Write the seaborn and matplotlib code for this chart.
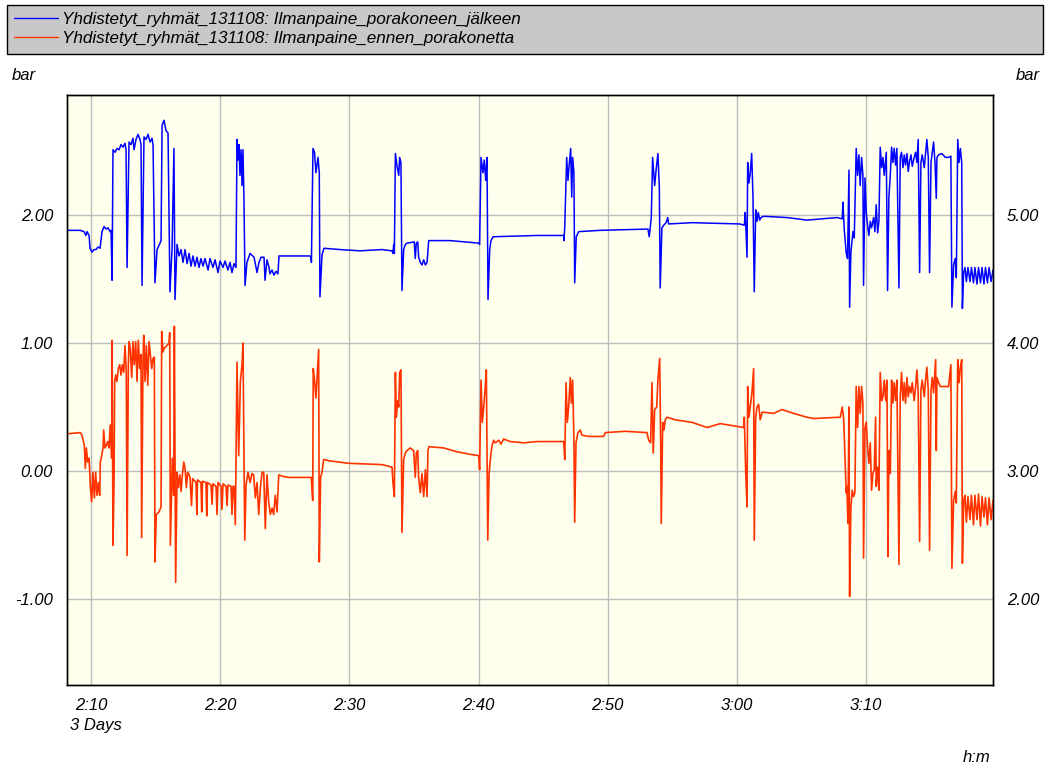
import matplotlib
matplotlib.use("Agg")
import matplotlib.pyplot as plt
import pandas as pd
import seaborn as sns
from matplotlib.lines import Line2D

# ---------------- data (time in minutes after 2:00, pressure in bar) ----------------
after_name = "Yhdistetyt_ryhmät_131108: Ilmanpaine_porakoneen_jälkeen"
before_name = "Yhdistetyt_ryhmät_131108: Ilmanpaine_ennen_porakonetta"

# blue series, left axis
after_points = [
    (8.14,1.88),(9.15,1.88),(9.46,1.87),(9.61,1.84),(9.69,1.87),(9.85,1.84),(9.92,1.74),(10.08,1.71),
    (10.23,1.73),(10.39,1.73),(10.54,1.75),(10.70,1.74),(10.85,1.87),(11.01,1.91),(11.16,1.89),(11.32,1.90),
    (11.47,1.87),(11.55,1.88),(11.63,1.49),(11.70,2.51),(11.86,2.49),(12.01,2.52),(12.17,2.51),(12.32,2.55),
    (12.48,2.53),(12.63,2.56),(12.71,2.51),(12.79,1.59),(12.94,2.57),(13.10,2.55),(13.25,2.60),(13.33,2.51),
    (13.48,2.59),(13.64,2.63),(13.79,2.59),(13.87,2.55),(13.95,1.45),(14.10,2.61),(14.26,2.59),(14.41,2.63),
    (14.57,2.57),(14.72,2.60),(14.80,2.55),(14.95,1.47),(15.11,1.73),(15.34,1.78),(15.42,1.80),(15.50,2.70),
    (15.65,2.74),(15.80,2.66),(15.96,2.64),(16.11,1.40),(16.27,1.73),(16.42,2.52),(16.50,1.34),(16.66,1.77),
    (16.81,1.68),(16.97,1.73),(17.12,1.63),(17.28,1.73),(17.43,1.62),(17.59,1.70),(17.74,1.60),(17.89,1.68),
    (18.05,1.60),(18.20,1.67),(18.36,1.59),(18.51,1.66),(18.67,1.60),(18.82,1.66),(19.06,1.57),(19.21,1.66),
    (19.44,1.59),(19.60,1.65),(19.83,1.55),(19.98,1.64),(20.22,1.59),(20.37,1.64),(20.60,1.57),(20.76,1.63),
    (20.91,1.55),(21.07,1.62),(21.22,1.59),
    (21.30,2.59),(21.38,2.43),(21.45,2.55),(21.53,2.31),(21.61,2.51),(21.69,2.23),(21.76,2.51),(21.84,2.12),
    (21.92,1.45),(22.07,1.63),(22.31,1.70),(22.62,1.67),(22.85,1.55),(23.00,1.63),(23.16,1.67),(23.39,1.67),
    (23.47,1.49),(23.62,1.65),(23.78,1.59),(23.85,1.54),(24.01,1.57),(24.16,1.53),(24.32,1.56),(24.47,1.54),
    (24.55,1.68),(25.40,1.68),(26.95,1.68),(27.03,1.67),(27.06,1.63),(27.18,2.52),(27.30,2.49),(27.41,2.33),
    (27.57,2.45),(27.67,2.33),(27.72,1.36),(27.88,1.69),(28.03,1.74),(29.27,1.73),(30.82,1.72),(32.52,1.73),
    (33.30,1.72),(33.37,1.70),(33.43,1.77),(33.48,1.70),(33.56,2.48),(33.69,2.38),(33.82,2.31),(33.89,2.45),
    (33.99,2.41),(34.07,1.41),(34.20,1.73),(34.33,1.77),(34.46,1.78),(35.02,1.79),(35.10,1.66),(35.18,1.78),
    (35.29,1.79),(35.36,1.67),(35.49,1.63),(35.62,1.61),(35.75,1.65),(35.88,1.61),(36.01,1.63),(36.14,1.80),
    (37.79,1.80),(40.03,1.78),(40.08,1.77),(40.19,2.45),(40.34,2.33),(40.44,2.43),(40.55,2.27),(40.65,2.45),
    (40.73,1.34),(40.86,1.73),(40.96,1.80),(41.12,1.83),(44.52,1.84),
    (46.59,1.84),(46.61,1.80),(46.67,1.91),(46.82,2.45),(46.92,2.27),(47.02,2.40),(47.13,2.52),(47.21,2.14),
    (47.28,2.45),(47.38,2.33),(47.44,1.47),(47.56,1.83),(47.75,1.87),(49.40,1.88),(53.11,1.89),(53.21,1.83),
    (53.37,1.98),(53.47,2.45),(53.63,2.23),(53.73,2.34),(53.88,2.48),(53.99,2.22),(54.06,1.43),(54.19,1.90),
    (54.33,1.92),(54.51,1.94),(54.64,1.98),(54.71,1.93),(56.52,1.94),
    (60.23,1.93),(60.57,1.92),(60.64,2.02),(60.78,1.67),(60.83,2.41),(60.93,2.25),(61.03,2.33),(61.14,2.48),
    (61.24,2.14),(61.34,1.40),(61.45,2.04),(61.55,1.95),(61.65,2.02),(61.76,1.96),(61.86,1.98),(62.07,1.99),
    (63.87,1.98),(65.42,1.96),(67.74,1.98),(68.15,1.97),(68.20,2.10),(68.31,1.88),(68.46,1.70),
    (68.56,1.66),(68.67,2.35),(68.72,1.28),(68.82,1.71),(68.98,1.87),(69.08,1.82),(69.23,2.52),(69.34,2.31),
    (69.44,2.47),(69.54,2.23),(69.65,2.45),(69.75,2.31),(69.80,1.45),(69.91,2.29),(70.01,2.02),(70.11,1.92),
    (70.21,1.84),(70.32,1.95),(70.42,1.90),(70.58,1.98),(70.68,1.87),(70.78,2.08),(70.89,1.86),(70.99,1.95),
    (71.09,2.53),(71.20,2.37),(71.30,2.45),(71.40,2.31),(71.56,2.49),(71.66,1.41),(71.76,2.14),(71.87,2.31),
    (71.97,2.53),(72.07,2.41),(72.17,2.52),(72.28,2.39),(72.38,2.52),(72.54,1.43),(72.64,2.45),(72.74,2.49),
    (72.85,2.37),(72.95,2.47),(73.05,2.39),(73.16,2.48),(73.26,2.34),(73.36,2.42),(73.47,2.47),(73.57,2.38),
    (73.72,2.45),(73.83,2.49),(73.93,2.41),(74.03,2.59),(74.14,1.55),(74.24,2.41),(74.34,2.47),(74.50,2.37),
    (74.60,2.48),(74.70,2.59),(74.81,2.45),(74.91,1.55),(75.02,2.41),(75.12,2.49),(75.22,2.57),(75.33,2.41),
    (75.43,2.13),(75.48,2.45),(75.61,2.47),(75.87,2.48),(76.13,2.45),(76.38,2.45),(76.56,2.46),(76.64,1.28),
    (76.77,1.61),(76.90,1.66),(76.98,1.51),(77.09,2.59),(77.19,2.41),(77.29,2.52),(77.40,2.41),(77.45,1.27),
    (77.55,1.55),(77.65,1.59),(77.76,1.48),(77.88,1.59),(78.04,1.48),(78.15,1.59),(78.31,1.47),(78.42,1.59),
    (78.58,1.46),(78.70,1.59),(78.85,1.47),(78.97,1.59),(79.12,1.46),(79.24,1.59),(79.39,1.47),(79.51,1.59),
    (79.67,1.48),(79.82,1.57),
]

# red series, right axis
before_points = [
    (8.14,3.29),(9.17,3.30),(9.30,3.28),(9.48,3.20),(9.56,3.02),(9.64,3.18),(9.74,3.07),(9.85,3.10),
    (9.95,2.87),(10.05,2.76),(10.15,2.99),(10.26,2.79),(10.36,2.99),(10.46,2.81),(10.57,2.91),(10.67,2.81),
    (10.72,3.07),(10.83,3.12),(10.93,3.18),(10.98,3.32),(11.08,3.18),(11.19,3.20),(11.29,3.23),(11.39,3.18),
    (11.49,3.36),(11.60,3.10),(11.63,4.02),(11.70,2.42),(11.78,2.91),(11.83,3.70),(11.91,3.75),(12.01,3.70),
    (12.11,3.80),(12.22,3.83),(12.32,3.75),(12.42,3.83),(12.53,3.77),(12.63,3.98),(12.73,3.77),(12.79,2.34),
    (12.89,3.83),(12.94,4.01),(13.04,3.96),(13.15,3.73),(13.25,4.01),(13.35,3.83),(13.46,4.01),(13.56,3.70),
    (13.66,4.02),(13.77,3.80),(13.87,3.91),(13.92,2.48),(14.02,3.85),(14.08,4.06),(14.18,3.70),(14.28,3.98),
    (14.39,3.67),(14.49,4.01),(14.59,3.91),(14.70,3.80),(14.80,3.88),(14.90,3.89),(14.95,2.29),(15.05,2.66),
    (15.26,2.68),(15.42,2.72),(15.47,4.09),(15.57,3.93),(15.67,3.96),(15.78,3.97),(15.88,3.98),(16.04,4.00),
    (16.09,4.08),(16.14,2.42),(16.29,3.10),(16.40,2.81),(16.45,4.13),(16.55,2.13),(16.66,2.99),(16.76,2.87),
    (16.87,2.97),(16.97,2.84),(17.07,2.97),(17.18,3.07),(17.28,3.02),(17.38,2.87),(17.48,2.99),(17.59,2.97),
    (17.66,2.95),(17.78,2.73),(17.86,2.94),(18.13,2.91),(18.19,2.66),(18.24,2.93),(18.51,2.91),(18.57,2.68),
    (18.63,2.92),(18.90,2.91),(18.96,2.65),(19.01,2.91),(19.29,2.89),(19.37,2.74),(19.43,2.90),(19.68,2.88),
    (19.75,2.66),(19.83,2.91),(20.06,2.88),(20.14,2.70),(20.22,2.90),(20.45,2.88),(20.53,2.73),(20.60,2.89),
    (20.84,2.88),(20.91,2.66),(20.99,2.88),(21.07,2.88),(21.17,2.58),
    (21.30,3.85),(21.43,3.12),(21.56,3.70),(21.69,3.83),(21.76,4.00),(21.84,3.12),(21.90,2.46),(22.00,2.89),
    (22.15,2.99),(22.31,2.91),(22.46,2.98),(22.59,2.97),(22.72,2.79),(22.85,2.91),(22.98,2.66),(23.11,2.87),
    (23.24,2.99),(23.37,2.99),(23.49,2.55),(23.62,2.97),(23.75,2.76),(23.88,2.66),(24.01,2.71),(24.14,2.66),
    (24.26,2.81),(24.40,2.68),(24.53,2.97),(24.78,2.96),(25.30,2.95),(26.85,2.95),(27.05,2.95),(27.16,2.77),
    (27.20,3.80),(27.31,3.70),(27.41,3.57),(27.51,3.75),(27.62,3.95),(27.67,2.29),(27.77,2.95),(27.88,2.99),
    (28.01,3.09),(28.40,3.08),(29.94,3.06),(32.52,3.05),
    (33.30,3.03),(33.37,2.91),(33.48,2.80),(33.56,3.77),(33.63,3.42),(33.74,3.55),(33.82,3.50),(33.89,3.77),
    (33.99,3.79),(34.07,2.52),(34.20,3.09),(34.33,3.14),(34.46,3.16),(34.71,3.18),(34.97,3.16),(35.10,2.95),
    (35.18,3.14),(35.29,3.16),(35.36,2.95),(35.49,2.83),(35.62,2.98),(35.75,2.80),(35.88,3.01),(36.01,2.80),
    (36.08,3.16),(36.16,3.19),(37.30,3.18),(38.33,3.15),(39.36,3.13),(40.01,3.12),(40.08,3.01),(40.19,3.71),
    (40.29,3.38),(40.40,3.50),(40.52,3.66),(40.60,3.79),(40.71,2.46),(40.81,2.98),(40.91,3.09),(41.04,3.20),
    (41.17,3.24),(41.29,3.22),(41.42,3.23),(41.56,3.24),(41.73,3.21),(41.94,3.25),(42.45,3.23),(43.48,3.22),
    (44.52,3.23),
    (46.59,3.23),(46.67,3.09),(46.77,3.69),(46.87,3.38),(46.97,3.50),(47.10,3.73),(47.18,3.53),(47.28,3.71),
    (47.38,3.24),(47.44,2.60),(47.54,3.22),(47.69,3.30),(47.87,3.32),(48.00,3.28),(48.52,3.27),(49.68,3.27),
    (49.81,3.30),(51.36,3.31),(53.03,3.30),(53.17,3.24),(53.32,3.22),(53.42,3.69),(53.52,3.14),(53.63,3.48),
    (53.79,3.50),(53.88,3.71),(54.02,3.88),(54.09,3.27),(54.14,2.59),(54.25,3.38),(54.35,3.32),(54.45,3.40),
    (54.58,3.42),(55.22,3.40),(56.52,3.38),
    (57.68,3.34),(58.71,3.37),(60.52,3.34),(60.57,3.42),(60.68,2.98),(60.78,2.72),(60.83,3.66),(60.93,3.42),
    (61.03,3.50),(61.16,3.61),(61.29,3.80),(61.34,2.46),(61.45,3.42),(61.55,3.50),(61.68,3.52),(61.80,3.40),
    (61.96,3.46),(62.84,3.45),(63.48,3.48),(64.39,3.45),(65.42,3.42),(65.94,3.41),(68.00,3.42),(68.15,3.50),
    (68.26,3.41),(68.36,3.11),(68.46,2.83),
    (68.51,2.88),(68.59,2.59),(68.67,3.50),(68.72,2.02),(68.82,2.72),(68.92,2.85),(69.03,2.80),(69.13,2.83),
    (69.23,3.66),(69.34,3.34),(69.44,3.66),(69.54,3.45),(69.65,3.66),(69.75,3.53),(69.80,2.32),(69.91,3.34),
    (70.01,3.38),(70.11,3.19),(70.21,3.06),(70.32,3.22),(70.42,2.85),(70.52,2.98),(70.63,3.01),(70.73,3.42),
    (70.78,2.88),(70.89,3.03),(70.99,2.85),(71.09,3.77),(71.20,3.55),(71.30,3.58),(71.40,3.71),(71.51,3.55),
    (71.61,3.71),(71.69,2.33),(71.76,3.16),(71.87,2.98),(71.97,3.71),(72.07,3.53),(72.17,3.69),(72.28,3.55),
    (72.38,3.71),(72.54,2.27),(72.64,3.58),(72.74,3.77),(72.85,3.55),(72.95,3.69),(73.05,3.53),(73.16,3.73),
    (73.26,3.58),(73.36,3.66),(73.47,3.61),(73.57,3.69),(73.72,3.55),(73.83,3.66),(73.93,3.79),(74.03,3.61),
    (74.14,2.45),(74.24,3.63),(74.34,3.71),(74.50,3.58),(74.60,3.71),(74.70,3.81),(74.81,3.63),(74.91,2.38),
    (75.02,3.63),(75.12,3.73),(75.22,3.61),(75.33,3.79),(75.38,3.87),(75.43,3.16),(75.48,3.73),(75.61,3.69),
    (75.74,3.66),(76.38,3.66),(76.56,3.83),(76.64,2.24),(76.77,2.77),(76.90,2.84),(76.98,2.75),(77.09,3.87),
    (77.19,3.69),(77.29,3.81),(77.40,3.87),(77.45,2.28),(77.55,2.77),(77.65,2.81),(77.76,2.60),(77.88,2.80),
    (78.04,2.62),(78.15,2.81),(78.31,2.58),(78.42,2.81),(78.58,2.62),(78.70,2.82),(78.85,2.57),(78.97,2.80),
    (79.12,2.64),(79.24,2.79),(79.39,2.58),(79.51,2.79),(79.67,2.62),(79.82,2.77),
]

x_tick_minutes = [10, 20, 30, 40, 50, 60, 70]
x_tick_labels = ["2:10", "2:20", "2:30", "2:40", "2:50", "3:00", "3:10"]
left_ticks = [-1.0, 0.0, 1.0, 2.0]
right_ticks = [2.0, 3.0, 4.0, 5.0]
x_range = (8.14, 79.82)
left_range = (-1.672, 2.9375)
right_range = (1.328, 5.9375)

# ---------------- styling ----------------
sns.set_style("white")
plt.rcParams["font.family"] = ["Liberation Sans", "DejaVu Sans"]
plt.rcParams["font.style"] = "italic"
plt.rcParams["text.color"] = "black"
plt.rcParams["xtick.color"] = "black"
plt.rcParams["ytick.color"] = "black"
FS = 12.0
LFS = 12.3
BLUE = "#0000ff"
RED = "#ff3300"
GRID = "#bdbdbd"

W, H = 1050, 764
fig = plt.figure(figsize=(W / 100, H / 100), dpi=100)
fig.patch.set_facecolor("white")
ax = fig.add_axes([67 / W, 1 - 685 / H, (993 - 67) / W, (685 - 95) / H])
ax.set_facecolor("#ffffee")

df_after = pd.DataFrame(after_points, columns=["minute", "bar"])
df_before = pd.DataFrame(before_points, columns=["minute", "bar"])

sns.lineplot(data=df_after, x="minute", y="bar", ax=ax, color=BLUE, linewidth=1.1,
             sort=False, estimator=None, legend=False)
ax2 = ax.twinx()
sns.lineplot(data=df_before, x="minute", y="bar", ax=ax2, color=RED, linewidth=1.2,
             sort=False, estimator=None, legend=False)

ax.set_xlim(*x_range)
ax.set_ylim(*left_range)
ax2.set_ylim(*right_range)

ax.set_xticks(x_tick_minutes)
ax.set_xticklabels(x_tick_labels)
ax.set_yticks(left_ticks)
ax.set_yticklabels([f"{v:.2f}" for v in left_ticks])
ax2.set_yticks(right_ticks)
ax2.set_yticklabels([f"{v:.2f}" for v in right_ticks])

for a in (ax, ax2):
    a.set_xlabel("")
    a.set_ylabel("")
    for s in a.spines.values():
        s.set_color("black")
        s.set_linewidth(1.0)
ax.tick_params(axis="both", length=0, labelsize=FS, colors="black")
ax.tick_params(axis="y", pad=10)
ax.tick_params(axis="x", pad=9)
ax2.tick_params(axis="y", length=0, labelsize=FS, colors="black", pad=10)
for lab in ax.get_xticklabels() + ax.get_yticklabels() + ax2.get_yticklabels():
    lab.set_fontstyle("italic")

ax.grid(True, color=GRID, linewidth=1.0)
ax.set_axisbelow(True)

# legend box
handles = [Line2D([], [], color=BLUE, linewidth=1.0), Line2D([], [], color=RED, linewidth=1.0)]
leg = fig.legend(handles, [after_name, before_name], loc="upper left",
                 bbox_to_anchor=(7 / W, 1 - 52 / H, 1036 / W, 47 / H), mode="expand",
                 frameon=True, fancybox=False, facecolor="#c8c8c8", edgecolor="black",
                 framealpha=1.0, prop={"style": "italic", "size": LFS},
                 handlelength=2.55, handletextpad=0.25, labelspacing=0.25, borderpad=0.42,
                 borderaxespad=0.0)
leg.get_frame().set_linewidth(1.0)
for t in leg.get_texts():
    t.set_color("black")

fig.text(12 / W, 1 - 75 / H, "bar", ha="left", va="center", fontsize=FS, style="italic")
fig.text(1040 / W, 1 - 75 / H, "bar", ha="right", va="center", fontsize=FS, style="italic")
fig.text(70 / W, 1 - 725.5 / H, "3 Days", ha="left", va="center", fontsize=FS, style="italic")
fig.text(990 / W, 1 - 758 / H, "h:m", ha="right", va="center", fontsize=FS, style="italic")

fig.savefig("out.png", dpi=100, facecolor="white")
